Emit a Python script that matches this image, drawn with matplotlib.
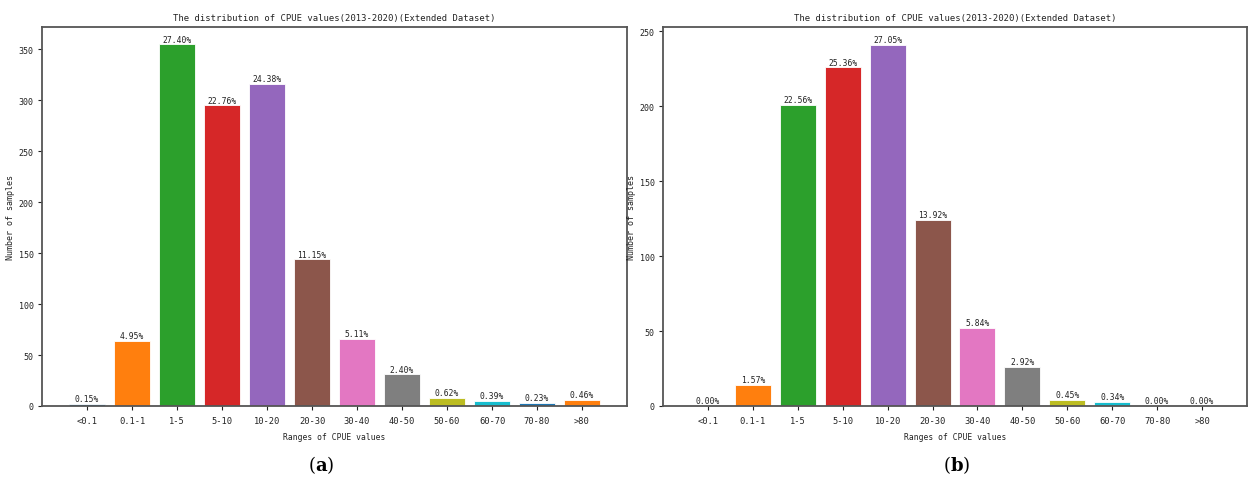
import matplotlib
matplotlib.use("Agg")
import matplotlib.pyplot as plt

categories = ["<0.1", "0.1-1", "1-5", "5-10", "10-20", "20-30", "30-40",
              "40-50", "50-60", "60-70", "70-80", ">80"]
counts_a = [2, 64, 355, 295, 316, 144, 66, 31, 8, 5, 3, 6]
pct_a = ["0.15%", "4.95%", "27.40%", "22.76%", "24.38%", "11.15%", "5.11%",
         "2.40%", "0.62%", "0.39%", "0.23%", "0.46%"]
counts_b = [0, 14, 201, 226, 241, 124, 52, 26, 4, 3, 0, 0]
pct_b = ["0.00%", "1.57%", "22.56%", "25.36%", "27.05%", "13.92%", "5.84%",
         "2.92%", "0.45%", "0.34%", "0.00%", "0.00%"]
title = "The distribution of CPUE values(2013-2020)(Extended Dataset)"
xlabel = "Ranges of CPUE values"
ylabel = "Number of samples"

colors = ["#1f77b4", "#ff7f0e", "#2ca02c", "#d62728", "#9467bd", "#8c564b",
          "#e377c2", "#7f7f7f", "#bcbd22", "#17becf", "#1f77b4", "#ff7f0e"]

plt.rcParams["font.family"] = ["DejaVu Sans Mono", "DejaVu Sans"]
plt.rcParams["mathtext.fontset"] = "dejavuserif"

W, H = 1248, 489
fig = plt.figure(figsize=(W / 100, H / 100), dpi=100)

def px_axes(x0, y0, x1, y1):
    return fig.add_axes([x0 / W, 1 - y1 / H, (x1 - x0) / W, (y1 - y0) / H])

ax_a = px_axes(42, 28, 627, 407)
ax_b = px_axes(663, 28, 1247, 407)

def draw(ax, counts, pcts, ymax, yticks):
    x = list(range(len(categories)))
    ax.bar(x, counts, width=0.8, color=colors, edgecolor="white", linewidth=0.6)
    for xi, c, p in zip(x, counts, pcts):
        ax.text(xi, c + ymax * 0.002, p, ha="center", va="bottom", fontsize=5.8,
                color="#222222")
    ax.set_xlim(-1, 12)
    ax.set_ylim(0, ymax)
    ax.set_xticks(x)
    ax.set_xticklabels(categories, fontsize=6.3)
    ax.set_yticks(yticks)
    ax.tick_params(axis="x", labelsize=6.3, length=3, width=0.8, pad=4,
                   colors="#222222")
    ax.tick_params(axis="y", labelsize=6.0, length=3, width=0.8, pad=3,
                   colors="#222222")
    ax.set_title(title, fontsize=6.4, pad=5, color="#222222")
    ax.set_xlabel(xlabel, fontsize=5.8, labelpad=5, color="#222222")
    ax.set_ylabel(ylabel, fontsize=6.0, labelpad=3, color="#222222")
    for s in ax.spines.values():
        s.set_color("#555555")
        s.set_linewidth(1.3)

draw(ax_a, counts_a, pct_a, 372, [0, 50, 100, 150, 200, 250, 300, 350])
draw(ax_b, counts_b, pct_b, 253, [0, 50, 100, 150, 200, 250])

fig.text(321 / W, 1 - 465 / H, r"($\mathbf{a}$)", ha="center", va="center",
         fontsize=13, family="DejaVu Serif")
fig.text(957 / W, 1 - 465 / H, r"($\mathbf{b}$)", ha="center", va="center",
         fontsize=13, family="DejaVu Serif")

fig.savefig("out.png", dpi=100)
